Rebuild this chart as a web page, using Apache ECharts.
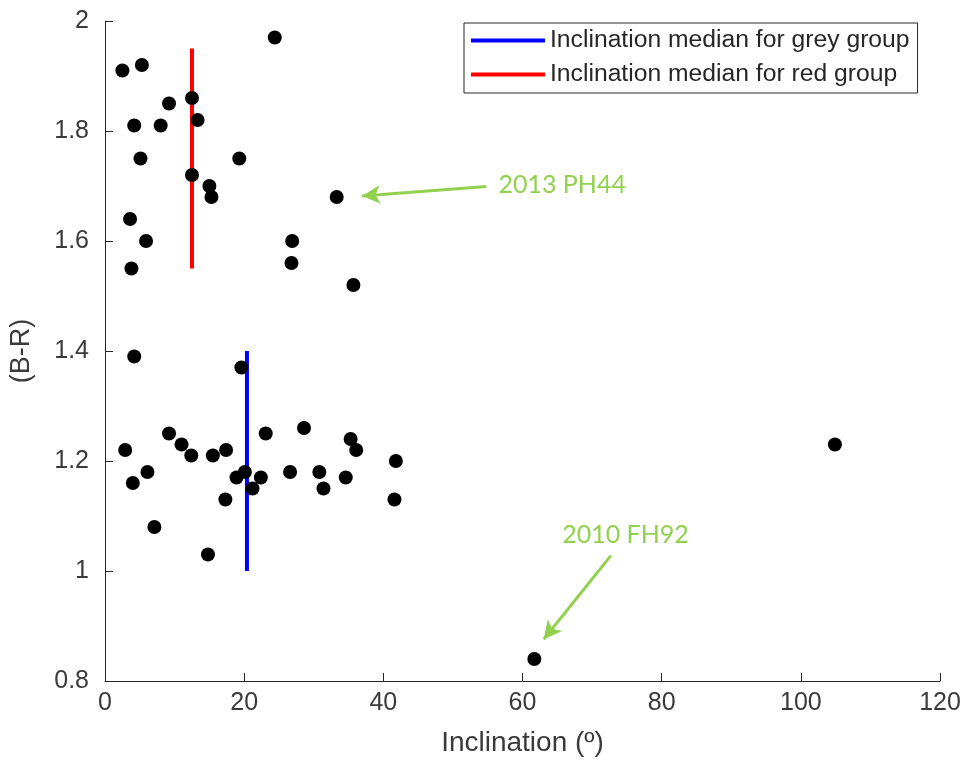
<!DOCTYPE html>
<html>
<head>
<meta charset="utf-8">
<script src="https://cdn.jsdelivr.net/npm/echarts@6/dist/echarts.min.js"></script>
<style>
  html, body { margin: 0; padding: 0; background: #fff; }
  #chart { width: 965px; height: 765px; }
</style>
</head>
<body>
<div id="chart"></div>
<script>
// Objects in the upper (red) colour group: inclination (deg) and B-R colour
const redGroupIncl = [2.5, 5.3, 24.4, 9.2, 12.5, 13.3, 4.2, 8.0, 5.1, 19.3, 12.5, 15.0, 15.3, 33.3, 3.6, 5.9, 26.9, 3.8, 26.8, 35.7];
const redGroupBR   = [1.91, 1.92, 1.97, 1.85, 1.86, 1.82, 1.81, 1.81, 1.75, 1.75, 1.72, 1.70, 1.68, 1.68, 1.64, 1.60, 1.60, 1.55, 1.56, 1.52];

// Objects in the lower (grey) colour group
const greyGroupIncl = [4.2, 19.6, 2.9, 9.2, 11.0, 12.4, 15.5, 17.4, 23.1, 28.6, 35.3, 36.1, 41.8, 6.1, 4.0, 18.9, 20.1, 22.4, 21.2, 26.6, 30.8, 31.4, 34.6, 17.3, 41.6, 7.1, 14.8, 104.9, 61.7];
const greyGroupBR   = [1.39, 1.37, 1.22, 1.25, 1.23, 1.21, 1.21, 1.22, 1.25, 1.26, 1.24, 1.22, 1.20, 1.18, 1.16, 1.17, 1.18, 1.17, 1.15, 1.18, 1.18, 1.15, 1.17, 1.13, 1.13, 1.08, 1.03, 1.23, 0.84];

// Median inclination of each group, drawn over the B-R span of that group
const greyMedian = { incl: 20.4, brRange: [1.0, 1.4] };
const redMedian  = { incl: 12.5, brRange: [1.55, 1.95] };

// Named objects called out on the plot
const callouts = [
  { name: '2013 PH44', target: [33.3, 1.68], arrowFrom: [54.8, 1.699], arrowTo: [36.95, 1.682], label: [65.7, 1.702] },
  { name: '2010 FH92', target: [61.7, 0.84], arrowFrom: [72.7, 1.028], arrowTo: [63.05, 0.876], label: [74.8, 1.0655] }
];

const xTicks = { min: 0, max: 120, interval: 20 };
const yTicks = { min: 0.8, max: 2, interval: 0.2 };

const AXIS_COLOR = '#262626';
const LABEL_COLOR = '#3a3a3a';
const CALLOUT_GREEN = '#92D050';
const SANS = '"Liberation Sans", Arial, sans-serif';

const points = redGroupIncl.map((x, i) => [x, redGroupBR[i]])
  .concat(greyGroupIncl.map((x, i) => [x, greyGroupBR[i]]));

const chart = echarts.init(document.getElementById('chart'), null, { renderer: 'canvas' });

chart.setOption({
  animation: false,
  backgroundColor: '#ffffff',
  grid: { left: 101, right: 25, top: 21, bottom: 84, containLabel: false },
  legend: {
    left: 464,
    top: 23,
    orient: 'vertical',
    data: ['Inclination median for grey group', 'Inclination median for red group'],
    icon: 'rect',
    itemWidth: 74,
    itemHeight: 4,
    itemGap: 9,
    padding: [5, 8, 6, 7],
    borderColor: AXIS_COLOR,
    borderWidth: 1,
    backgroundColor: '#ffffff',
    textStyle: { fontFamily: SANS, fontSize: 24.7, color: '#262626' },
    selectedMode: false
  },
  xAxis: {
    type: 'value',
    min: xTicks.min,
    max: xTicks.max,
    interval: xTicks.interval,
    name: 'Inclination (º)',
    nameLocation: 'middle',
    nameGap: 48,
    nameTextStyle: { fontFamily: SANS, fontSize: 28, color: LABEL_COLOR },
    axisLine: { show: true, onZero: false, lineStyle: { color: AXIS_COLOR, width: 1 } },
    axisTick: { show: true, inside: true, length: 8, lineStyle: { color: AXIS_COLOR } },
    axisLabel: { fontFamily: SANS, fontSize: 25, color: LABEL_COLOR, margin: 10 },
    splitLine: { show: false }
  },
  yAxis: {
    type: 'value',
    min: yTicks.min,
    max: yTicks.max,
    interval: yTicks.interval,
    name: '(B-R)',
    nameLocation: 'middle',
    nameGap: 70,
    nameTextStyle: { fontFamily: SANS, fontSize: 27, color: LABEL_COLOR },
    axisLine: { show: true, onZero: false, lineStyle: { color: AXIS_COLOR, width: 1 } },
    axisTick: { show: true, inside: true, length: 8, lineStyle: { color: AXIS_COLOR } },
    axisLabel: { fontFamily: SANS, fontSize: 25, color: LABEL_COLOR, margin: 16 },
    splitLine: { show: false }
  },
  series: [
    {
      name: 'objects',
      type: 'scatter',
      data: points,
      symbol: 'circle',
      symbolSize: 14,
      itemStyle: { color: '#000000', opacity: 1 },
      z: 3,
      markLine: {
        silent: true,
        symbol: ['none', 'arrow'],
        symbolSize: [14, 18],
        label: { show: false },
        lineStyle: { color: CALLOUT_GREEN, width: 3, type: 'solid', opacity: 1 },
        data: callouts.map(c => [
          { coord: c.arrowFrom },
          { coord: c.arrowTo }
        ])
      },
      markPoint: {
        silent: true,
        symbol: 'circle',
        symbolSize: 0,
        label: {
          show: true,
          position: 'inside',
          color: CALLOUT_GREEN,
          fontFamily: 'Lato, "Open Sans", sans-serif',
          fontSize: 25,
          formatter: p => p.name
        },
        data: callouts.map(c => ({ name: c.name, coord: c.label }))
      }
    },
    {
      name: 'Inclination median for grey group',
      type: 'line',
      data: greyMedian.brRange.map(v => [greyMedian.incl, v]),
      showSymbol: false,
      symbol: 'none',
      lineStyle: { color: '#0000FF', width: 4 },
      itemStyle: { color: '#0000FF' },
      z: 2
    },
    {
      name: 'Inclination median for red group',
      type: 'line',
      data: redMedian.brRange.map(v => [redMedian.incl, v]),
      showSymbol: false,
      symbol: 'none',
      lineStyle: { color: '#FF0000', width: 4 },
      itemStyle: { color: '#FF0000' },
      z: 2
    }
  ]
});
</script>
</body>
</html>
